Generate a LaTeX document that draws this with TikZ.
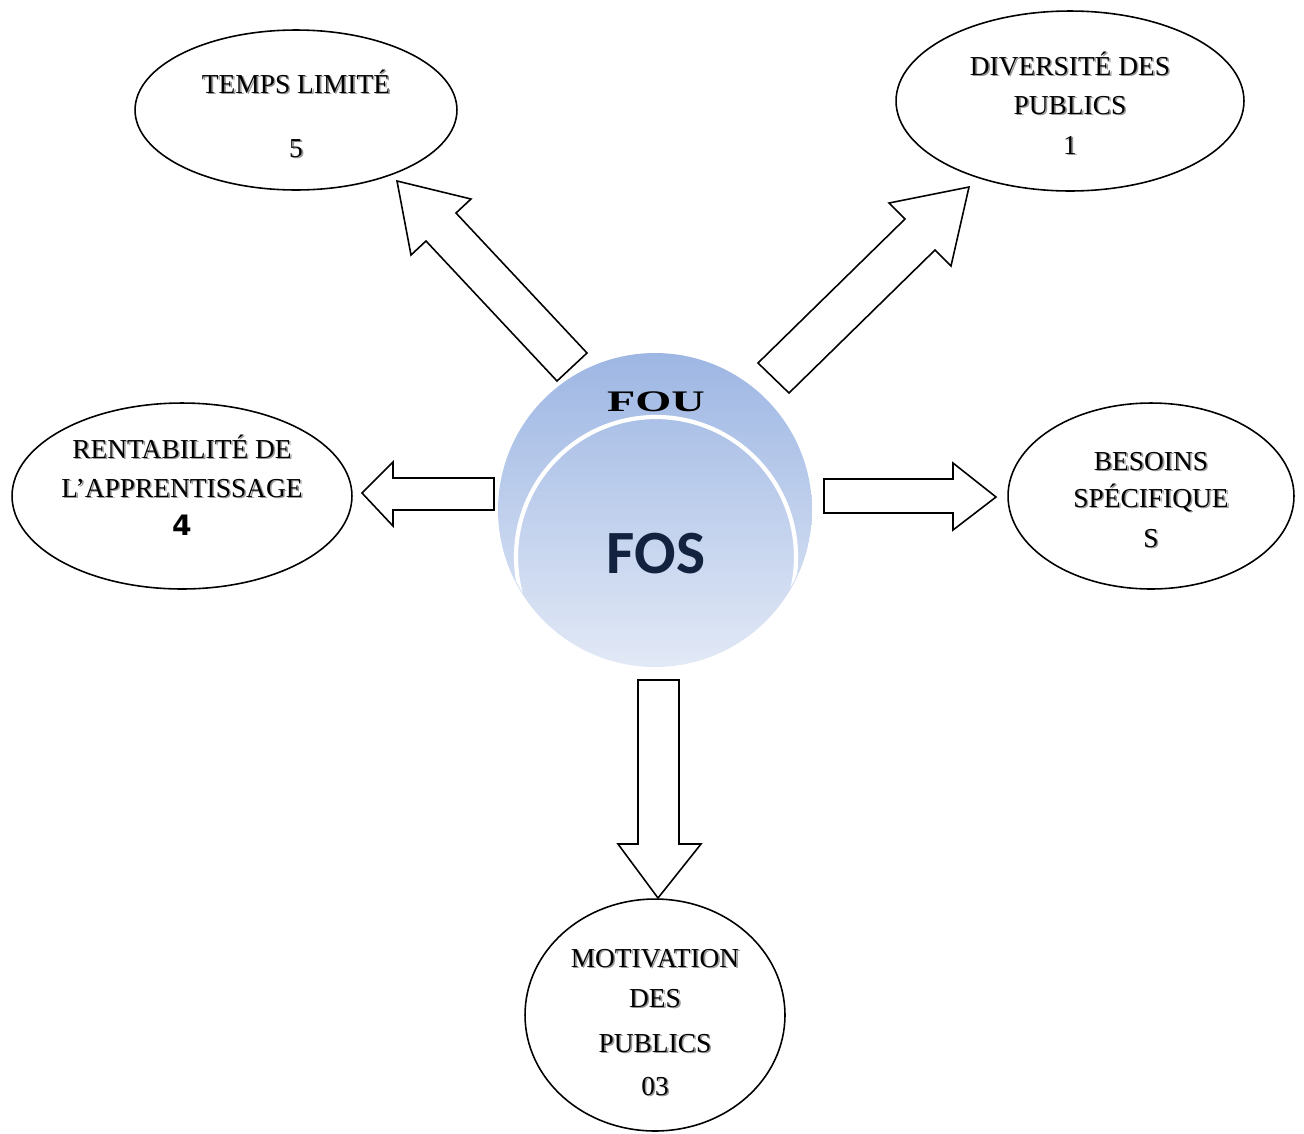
\documentclass[tikz,border=0pt]{standalone}
\usepackage{fontspec}
\setmainfont{Liberation Serif}
\newfontfamily\fosfont{Carlito}
\newfontfamily\numfont{DejaVu Sans}
\usetikzlibrary{shapes.geometric}
\definecolor{fostop}{RGB}{157,182,227}
\definecolor{fosbot}{RGB}{226,233,246}
\definecolor{fosink}{RGB}{19,35,63}
\newcommand\shlbl[3]{%
  \node[lbl,text=black!40] (#1-sh) at ([shift={(1.6,1.6)}]#2) {#3};
  \node[lbl] (#1) at (#2) {#3};}
\begin{document}
\begin{tikzpicture}[x=0.02cm,y=-0.02cm,
  bubble/.style={draw,ellipse,line width=0.9pt,inner sep=0pt},
  blockarrow/.style={draw,fill=white,line width=0.9pt,line join=miter},
  lbl/.style={font=\fontsize{15.6}{18}\selectfont,inner sep=0pt,anchor=base}]
\useasboundingbox (0,0) rectangle (1304,1133);

% bubbles
\node[bubble,minimum width=6.44cm,minimum height=3.2cm] (temps) at (296,110) {};
\node[bubble,minimum width=6.96cm,minimum height=3.6cm] (divers) at (1070,101) {};
\node[bubble,minimum width=6.8cm,minimum height=3.72cm] (rentab) at (182,496) {};
\node[bubble,minimum width=5.72cm,minimum height=3.72cm] (besoins) at (1151,496) {};
\node[bubble,minimum width=5.2cm,minimum height=4.64cm] (motiv) at (655,1015) {};

% central circle
\node[circle,minimum size=6.28cm,inner sep=0pt,top color=fostop,bottom color=fosbot] (fos) at (655,510) {};
\begin{scope}
  \clip (655,510) circle[radius=156];
  \clip (400,300) rectangle (900,592);
  \draw[white,line width=2.4pt] (656,557) circle[radius=140];
\end{scope}
\node[anchor=base,inner sep=0pt,text=fosink,font=\fosfont\bfseries\fontsize{35}{40}\selectfont] (fostxt) at (656,573) {FOS};
\node[anchor=base,inner sep=0pt,font=\bfseries\fontsize{17}{19}\selectfont] (fou) at (656,411) {\scalebox{1.55}[1]{FOU}};

% block arrows
\draw[blockarrow] (557,381) -- (426,241) -- (411,255) -- (397,181) -- (471,199) -- (456,213) -- (587,353) -- cycle;
\draw[blockarrow] (758,363) -- (905,219) -- (889,203) -- (969,187) -- (951,266) -- (935,250) -- (789,393) -- cycle;
\draw[blockarrow] (494,478) -- (393,478) -- (393,462) -- (362,493) -- (393,526) -- (393,510) -- (494,510) -- cycle;
\draw[blockarrow] (824,479) -- (953,479) -- (953,463) -- (996,497) -- (953,530) -- (953,513) -- (824,513) -- cycle;
\draw[blockarrow] (638,680) -- (679,680) -- (679,844) -- (701,844) -- (658,898) -- (618,844) -- (638,844) -- cycle;

% labels
\shlbl{t1}{296,93}{TEMPS LIMITÉ}
\shlbl{t2}{296,157}{5}
\shlbl{d1}{1070,75}{DIVERSITÉ DES}
\shlbl{d2}{1070,114}{PUBLICS}
\shlbl{d3}{1070,154}{1}
\shlbl{r1}{182,458}{RENTABILITÉ DE}
\shlbl{r2}{182,497}{L’APPRENTISSAGE}
\node[lbl,font=\numfont\bfseries\fontsize{16}{18}\selectfont] (r3) at (182,535) {4};
\shlbl{b1}{1151,470}{BESOINS}
\shlbl{b2}{1151,507}{SPÉCIFIQUE}
\shlbl{b3}{1151,547}{S}
\shlbl{m1}{655,967}{MOTIVATION}
\shlbl{m2}{655,1007}{DES}
\shlbl{m3}{655,1052}{PUBLICS}
\shlbl{m4}{655,1095}{03}
\end{tikzpicture}
\end{document}
